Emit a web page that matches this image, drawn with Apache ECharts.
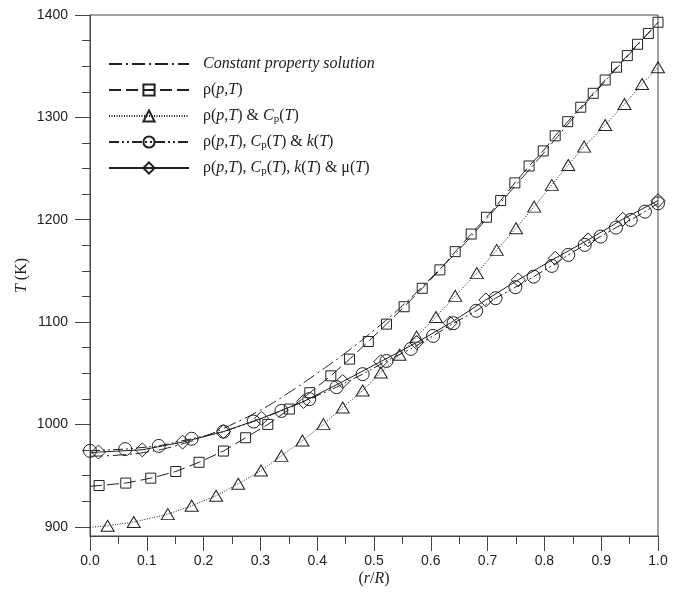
<!DOCTYPE html>
<html>
<head>
<meta charset="utf-8">
<script src="https://cdn.jsdelivr.net/npm/echarts@6/dist/echarts.min.js"></script>
<style>
  html, body { margin: 0; padding: 0; background: #fff; }
  #chart { width: 682px; height: 596px; }
</style>
</head>
<body>
<div id="chart"></div>
<script>
// values
const xTicks = [0, 0.1, 0.2, 0.3, 0.4, 0.5, 0.6, 0.7, 0.8, 0.9, 1.0];
const yTicks = [900, 1000, 1100, 1200, 1300, 1400];
const yMinor = [900, 925, 950, 975, 1000, 1025, 1050, 1075, 1100, 1125, 1150, 1175, 1200, 1225, 1250, 1275, 1300, 1325, 1350, 1375, 1400];

const constX = [0, 0.05, 0.1, 0.15, 0.2, 0.25, 0.3, 0.35, 0.4, 0.45, 0.5, 0.55, 0.6, 0.65, 0.7, 0.75, 0.8, 0.85, 0.9, 0.95, 1.0];
const constT = [969, 970, 973, 979, 988, 1000, 1014, 1031, 1050, 1070, 1092, 1116, 1143, 1171, 1202, 1234, 1266, 1299, 1331, 1362, 1393];

// first point of rho / cp / mu is the line start only (no marker)
const rhoX = [0, 0.016, 0.063, 0.107, 0.151, 0.192, 0.235, 0.274, 0.313, 0.351, 0.387, 0.424, 0.457, 0.490, 0.522, 0.553, 0.585, 0.616, 0.643, 0.671, 0.698, 0.723, 0.748, 0.773, 0.798, 0.819, 0.841, 0.864, 0.886, 0.907, 0.927, 0.946, 0.964, 0.983, 1.0];
const rhoT = [939.5, 940.3, 942.7, 947.5, 954, 963, 974, 987, 1000, 1015, 1031, 1047.5, 1063.8, 1081, 1098, 1115, 1133, 1151, 1168.8, 1186, 1202.4, 1218.7, 1236, 1252.5, 1267.2, 1282, 1295.8, 1309.9, 1323.5, 1336.5, 1349, 1360.3, 1371.4, 1382, 1392.9];

const cpX = [0, 0.031, 0.077, 0.137, 0.179, 0.222, 0.261, 0.301, 0.337, 0.374, 0.411, 0.445, 0.480, 0.512, 0.545, 0.575, 0.609, 0.643, 0.681, 0.716, 0.750, 0.782, 0.813, 0.842, 0.870, 0.907, 0.941, 0.972, 1.0];
const cpT = [899.5, 901, 904.6, 912.4, 920.5, 930.3, 942, 955, 969.3, 984.3, 1000.3, 1016.5, 1033.1, 1050.7, 1068, 1085.8, 1105, 1125.6, 1147.8, 1170.5, 1191.7, 1212.8, 1234, 1253.5, 1271.4, 1292.6, 1313, 1332.6, 1348.9];

const kX = [0, 0.062, 0.121, 0.179, 0.235, 0.288, 0.337, 0.386, 0.434, 0.480, 0.522, 0.565, 0.604, 0.640, 0.680, 0.714, 0.749, 0.781, 0.813, 0.842, 0.871, 0.899, 0.926, 0.952, 0.977, 1.0];
const kT = [974.2, 975.9, 979, 986, 993, 1002.8, 1013.2, 1024.7, 1036.4, 1049.1, 1062, 1073.8, 1086.5, 1098.9, 1111, 1123.3, 1134.1, 1144.4, 1154.9, 1165.6, 1175.4, 1183.5, 1192.3, 1199.8, 1207.9, 1216];

const muX = [0, 0.015, 0.092, 0.163, 0.235, 0.302, 0.376, 0.445, 0.512, 0.575, 0.634, 0.697, 0.754, 0.819, 0.877, 0.938, 1.0];
const muT = [972, 973, 975.2, 982.7, 993, 1006, 1022.4, 1041.9, 1061.4, 1080, 1098.9, 1121.7, 1141.2, 1162.4, 1180.3, 1200.5, 1218.7];

const names = [
  'Constant property solution',
  'ρ(p,T)',
  'ρ(p,T) & Cp(T)',
  'ρ(p,T), Cp(T) & k(T)',
  'ρ(p,T), Cp(T), k(T) & μ(T)'
];
const legendRich = {
  'Constant property solution': '{g|}{it|Constant property solution}',
  'ρ(p,T)': '{g|}ρ({it|p},{it|T})',
  'ρ(p,T) & Cp(T)': '{g|}ρ({it|p},{it|T}) & {it|C}{sub|p}({it|T})',
  'ρ(p,T), Cp(T) & k(T)': '{g|}ρ({it|p},{it|T}), {it|C}{sub|p}({it|T}) & {it|k}({it|T})',
  'ρ(p,T), Cp(T), k(T) & μ(T)': '{g|}ρ({it|p},{it|T}), {it|C}{sub|p}({it|T}), {it|k}({it|T}) & μ({it|T})'
};

const ink = '#222';
const pairs = (xs, ys, skipFirst) => xs.map((x, i) =>
  (skipFirst && i === 0) ? { value: [x, ys[i]], symbol: 'none' } : [x, ys[i]]);

const lineSeries = (name, data, dash, symbol, size) => ({
  name: name,
  type: 'line',
  data: data,
  symbol: symbol,
  symbolSize: size,
  showSymbol: symbol !== 'none',
  showAllSymbol: true,
  smooth: symbol === 'none',
  animation: false,
  lineStyle: { color: ink, width: 1, type: dash },
  itemStyle: { color: 'rgba(255,255,255,0)', borderColor: ink, borderWidth: 1 },
  emphasis: { disabled: true }
});

const legendData = names.map((n, i) => i === 0
  ? { name: n, itemStyle: { color: 'rgba(0,0,0,0)', borderColor: 'rgba(0,0,0,0)', borderWidth: 0 } }
  : { name: n });

const chart = echarts.init(document.getElementById('chart'));
chart.setOption({
  backgroundColor: '#fff',
  animation: false,
  grid: {
    left: 90, right: 24, top: 15, bottom: 60,
    show: true, borderColor: '#444', borderWidth: 1
  },
  legend: {
    orient: 'vertical',
    left: 108,
    top: 55,
    padding: 0,
    itemWidth: 80,
    itemHeight: 14,
    itemGap: 8,
    selectedMode: false,
    data: legendData,
    formatter: n => legendRich[n],
    textStyle: {
      fontFamily: 'Liberation Serif',
      fontSize: 16,
      lineHeight: 18,
      color: ink,
      rich: {
        g: { width: 9 },
        it: { fontStyle: 'italic', fontFamily: 'Liberation Serif', fontSize: 16, lineHeight: 18, color: ink },
        sub: { fontFamily: 'Liberation Serif', fontSize: 11, lineHeight: 18, padding: [7, 0, 0, 0], color: ink }
      }
    }
  },
  xAxis: {
    type: 'value',
    min: 0,
    max: 1,
    interval: 0.1,
    name: '({it|r}/{it|R})',
    nameLocation: 'middle',
    nameGap: 35,
    nameMoveOverlap: false,
    nameTextStyle: {
      fontFamily: 'Liberation Serif', fontSize: 16, color: ink,
      rich: { it: { fontStyle: 'italic', fontFamily: 'Liberation Serif', fontSize: 16, color: ink } }
    },
    axisLine: { lineStyle: { color: '#444', width: 1 } },
    axisTick: { length: 15, lineStyle: { color: '#444' } },
    minorTick: { show: true, splitNumber: 2, length: 8, lineStyle: { color: '#444' } },
    splitLine: { show: false },
    minorSplitLine: { show: false },
    axisLabel: {
      margin: 18,
      fontFamily: 'Liberation Sans',
      fontSize: 14,
      color: ink,
      formatter: v => v.toFixed(1)
    }
  },
  yAxis: [
    {
      type: 'value',
      min: 891,
      max: 1400,
      name: '{it|T} (K)',
      nameLocation: 'middle',
      nameRotate: 90,
      nameGap: 60,
      nameMoveOverlap: false,
      nameTextStyle: {
        fontFamily: 'Liberation Serif', fontSize: 16, color: ink,
        rich: { it: { fontStyle: 'italic', fontFamily: 'Liberation Serif', fontSize: 16, color: ink } }
      },
      axisLine: { show: true, lineStyle: { color: '#444', width: 1 } },
      axisTick: { show: true, length: 15, customValues: yTicks, lineStyle: { color: '#444' } },
      splitLine: { show: false },
      axisLabel: {
        customValues: yTicks,
        margin: 22,
        fontFamily: 'Liberation Sans',
        fontSize: 14,
        color: ink,
        formatter: v => String(v)
      }
    },
    {
      type: 'value',
      min: 891,
      max: 1400,
      position: 'left',
      offset: 0,
      axisLine: { show: false },
      axisTick: { show: true, length: 8, customValues: yMinor, lineStyle: { color: '#444' } },
      axisLabel: { show: false },
      splitLine: { show: false }
    }
  ],
  series: [
    lineSeries(names[0], pairs(constX, constT, false), [13, 4, 2, 4], 'none', 0),
    lineSeries(names[1], pairs(rhoX, rhoT, true), [12, 5], 'rect', 10),
    lineSeries(names[2], pairs(cpX, cpT, true), [1, 1.5], 'triangle', [13, 11]),
    lineSeries(names[3], pairs(kX, kT, false), [10, 3, 2, 3, 2, 3], 'circle', 13),
    lineSeries(names[4], pairs(muX, muT, true), 'solid', 'diamond', [14, 14])
  ]
});
</script>
</body>
</html>
